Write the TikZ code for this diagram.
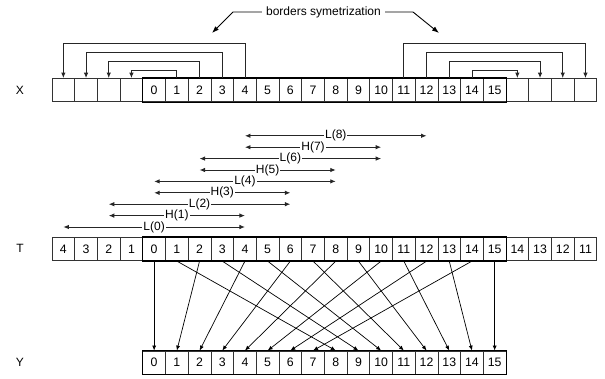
\documentclass[tikz,border=0pt]{standalone}
\usepackage{fontspec}
\setmainfont{Liberation Sans}
\usetikzlibrary{arrows.meta}
\begin{document}
\begin{tikzpicture}[x=1pt,y=-1pt,
  txt/.style={font=\fontsize{12}{14}\selectfont, inner sep=0pt},
  cell/.style={draw=black!80, line width=0.8pt, minimum width=22.7pt, minimum height=23.4pt, inner sep=0pt, font=\fontsize{12.3}{14}\selectfont},
  ycell/.style={cell, minimum height=23pt},
  dataframe/.style={draw=black, line width=1.25pt},
  barrow/.style={draw=black!85, line width=0.9pt, -{Latex[length=5.5pt,width=4.5pt]}},
  conn/.style={draw=black, line width=0.7pt, -{Latex[length=5pt,width=4pt]}},
  lh/.style={draw=black!85, line width=0.9pt, {Latex[length=5.5pt,width=4.5pt]}-{Latex[length=5.5pt,width=4.5pt]}},
  lbl/.style={fill=white, font=\fontsize{12}{14}\selectfont, inner sep=1pt},
  pointer/.style={draw=black, line width=0.9pt, -{Latex[length=7pt,width=5pt]}}
]
\useasboundingbox (0,0) rectangle (605,379);
% row labels
\node[txt] (lx) at (20,90) {X};
\node[txt] (lt) at (20,248.5) {T};
\node[txt] (ly) at (20,362) {Y};
% X row
\foreach \i in {0,...,23}{
  \pgfmathsetmacro\cx{52+(\i+0.5)*22.7}
  \pgfmathtruncatemacro\k{\i-4}
  \ifnum\i<4
    \node[cell] (xc\i) at (\cx,90.2) {};
  \else\ifnum\i>19
    \node[cell] (xc\i) at (\cx,90.2) {};
  \else
    \node[cell] (xc\i) at (\cx,90.2) {\k};
  \fi\fi
}
\draw[dataframe] (xc4.north west) rectangle (xc19.south east);
% T row
\foreach \i in {0,...,23}{
  \pgfmathsetmacro\cx{52+(\i+0.5)*22.7}
  \ifnum\i<4
    \pgfmathtruncatemacro\k{4-\i}
  \else\ifnum\i>19
    \pgfmathtruncatemacro\k{34-\i}
  \else
    \pgfmathtruncatemacro\k{\i-4}
  \fi\fi
  \node[cell] (tc\i) at (\cx,249) {\k};
}
\draw[dataframe] (tc4.north west) rectangle (tc19.south east);
% Y row
\foreach \j in {0,...,15}{
  \pgfmathsetmacro\cx{52+(\j+4.5)*22.7}
  \node[ycell] (yc\j) at (\cx,362.5) {\j};
}
\draw[dataframe] (yc0.north west) rectangle (yc15.south east);
% border symmetrization arrows
\foreach \a/\b/\h in {5/3/70, 6/2/61, 7/1/52, 8/0/43, 18/20/70, 17/21/61, 16/22/52, 15/23/43}
  \draw[barrow] (xc\a.north) -- (xc\a.north |- 0,\h) -| (xc\b.north);
% title and pointers
\node[txt, inner sep=4pt] (bs) at (323.5,12) {borders symetrization};
\coordinate (pl) at (233,12);
\coordinate (tl) at (212,33);
\coordinate (pr) at (413,12);
\coordinate (tr) at (439,33);
\draw[pointer] (bs.west) -- (pl) -- (tl);
\draw[pointer] (bs.east) -- (pr) -- (tr);
% L/H ranges
\foreach \r in {0,...,8}{
  \pgfmathsetmacro\yy{227-\r*11.4}
  \ifodd\r
    \pgfmathtruncatemacro\s{\r+1}
    \pgfmathtruncatemacro\e{\r+7}
    \draw[lh] (tc\s.center |- 0,\yy) -- (tc\e.center |- 0,\yy) node[midway, lbl] {H(\r)};
  \else
    \pgfmathtruncatemacro\s{\r}
    \pgfmathtruncatemacro\e{\r+8}
    \draw[lh] (tc\s.center |- 0,\yy) -- (tc\e.center |- 0,\yy) node[midway, lbl] {L(\r)};
  \fi
}
% T -> Y connectors
\foreach \j in {0,...,15}{
  \ifnum\j<8
    \pgfmathtruncatemacro\s{2*\j+4}
  \else
    \pgfmathtruncatemacro\s{2*(\j-8)+5}
  \fi
  \draw[conn] (tc\s.south) -- (yc\j.north);
}
\end{tikzpicture}
\end{document}
